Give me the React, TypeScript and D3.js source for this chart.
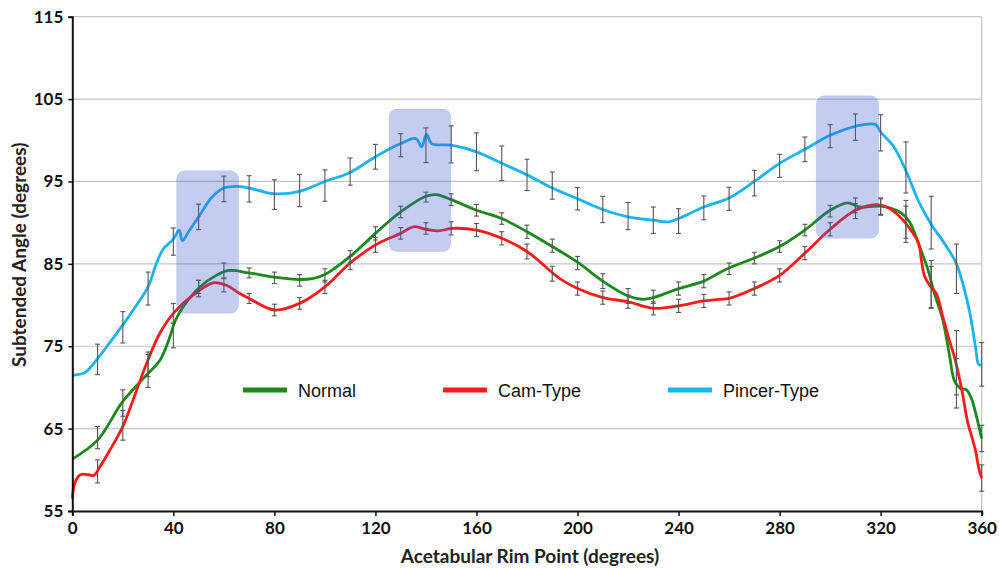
import React, { useEffect, useRef } from 'react';
import * as d3 from 'd3';

const WIDTH = 999;
const HEIGHT = 568;

// line traces (angle in degrees, subtended angle in degrees)
const pincerAngles = [0, 5, 10, 15, 20, 25, 30, 33, 36, 40, 42.3, 43.6, 46, 50, 55, 60, 65, 70, 80, 90, 100, 110, 120, 130, 136, 138.3, 140.2, 142.3, 150, 160, 170, 180, 190, 200, 210, 220, 230, 236, 240, 250, 260, 270, 280, 290, 300, 310, 318, 320, 325, 330, 335, 340, 345, 350, 355, 357.5, 358.8, 360];
const pincerValues = [71.5, 71.8, 73.5, 75.5, 77.6, 79.8, 82.2, 84.8, 86.8, 88.0, 89.1, 87.8, 88.9, 90.7, 93.0, 94.2, 94.4, 94.2, 93.5, 93.8, 95.0, 96.1, 98.0, 99.6, 100.2, 99.2, 100.7, 99.6, 99.4, 98.6, 97.2, 95.8, 94.2, 92.9, 91.6, 90.7, 90.3, 90.1, 90.5, 91.9, 93.0, 95.0, 97.2, 98.9, 100.6, 101.7, 101.9, 101.0, 99.3, 96.3, 92.6, 89.8, 87.6, 85.0, 79.5, 75.0, 72.8, 72.7];

const normalAngles = [0, 10, 20, 30, 34.7, 38.7, 40.6, 43.9, 50.5, 57, 62, 70, 80, 90, 95, 100, 110, 120, 130, 140, 144, 150, 160, 170, 180, 190, 200, 210, 220, 226, 230, 240, 250, 256, 260, 270, 280, 290, 300, 307, 311.6, 320, 328, 331.4, 335.4, 338.7, 341.3, 344.6, 347.3, 349.2, 351.5, 354, 356, 358, 360];
const normalValues = [61.3, 63.6, 68.3, 71.7, 73.3, 76.2, 78.0, 79.8, 82.2, 83.6, 84.2, 83.9, 83.4, 83.1, 83.2, 83.7, 85.9, 88.7, 91.3, 93.2, 93.4, 92.8, 91.5, 90.5, 88.9, 87.1, 85.2, 82.9, 81.1, 80.7, 80.9, 82.0, 82.9, 83.9, 84.5, 85.7, 87.1, 89.1, 91.5, 92.4, 91.9, 92.0, 91.2, 90.1, 87.1, 84.3, 81.4, 78.2, 73.8, 70.8, 69.9, 69.7, 68.6, 66.4, 63.8];

const camAngles = [0, 1, 3.2, 6.5, 8.5, 11, 14.9, 20.2, 25.5, 29.4, 34.7, 40.6, 47.8, 55.7, 61, 66.3, 70, 80, 90, 100, 110, 120, 130, 135, 140, 145, 150, 160, 170, 180, 193, 200, 210, 220, 230, 240, 250, 256, 260, 270, 280, 290, 300, 310, 318.4, 322.4, 327, 331, 335, 336.1, 337.4, 339.4, 342, 344.6, 347.3, 349.2, 352, 354.5, 356, 357.5, 359, 360];
const camValues = [56.5, 58.4, 59.4, 59.4, 59.3, 60.4, 62.4, 65.4, 69.7, 72.9, 76.6, 79.2, 81.2, 82.7, 82.4, 81.4, 80.8, 79.4, 80.2, 82.2, 85.1, 87.3, 88.7, 89.5, 89.2, 89.0, 89.3, 89.1, 88.1, 86.5, 83.2, 82.0, 80.9, 80.4, 79.6, 79.9, 80.5, 80.7, 80.8, 82.0, 83.6, 86.3, 89.2, 91.5, 92.2, 91.9, 90.9, 89.5, 87.5, 85.5, 83.5, 82.4, 81.4, 78.6, 75.6, 73.7, 69.9, 65.7, 64.1, 62.4, 60.0, 59.0];

// error bars every 10 degrees
const barAngles = [10, 20, 30, 40, 50, 60, 70, 80, 90, 100, 110, 120, 130, 140, 150, 160, 170, 180, 190, 200, 210, 220, 230, 240, 250, 260, 270, 280, 290, 300, 310, 320, 330, 340, 350, 360];
const pincerMean = [73.4, 77.3, 82.0, 87.7, 90.7, 94.1, 94.1, 93.4, 93.9, 94.5, 96.2, 98.0, 99.4, 99.4, 99.5, 98.6, 97.2, 95.8, 94.5, 92.9, 91.6, 90.8, 90.3, 90.2, 91.8, 92.9, 94.8, 96.9, 98.9, 100.5, 101.6, 100.9, 96.7, 90.0, 84.4, 72.8];
const pincerErr = [1.85, 1.9, 2.0, 1.65, 1.55, 1.55, 1.6, 1.8, 1.95, 1.9, 1.65, 1.5, 1.4, 2.1, 2.25, 2.3, 2.1, 1.9, 1.65, 1.35, 1.6, 1.65, 1.6, 1.5, 1.45, 1.4, 1.55, 1.4, 1.5, 1.4, 1.6, 2.2, 3.1, 3.2, 3.0, 2.65];
const normalMean = [63.9, 68.1, 72.0, 76.3, 82.0, 84.2, 83.9, 83.3, 83.0, 83.6, 85.9, 88.7, 91.3, 93.1, 92.8, 91.5, 90.5, 88.9, 87.2, 85.1, 82.9, 81.1, 81.0, 82.0, 82.9, 84.4, 85.7, 87.1, 89.1, 91.4, 92.1, 91.9, 90.4, 82.5, 70.5, 63.8];
const normalErr = [1.35, 1.6, 2.0, 1.5, 1.0, 0.9, 0.6, 0.7, 0.7, 0.8, 0.7, 0.8, 0.7, 0.6, 0.7, 0.7, 0.7, 0.8, 0.8, 0.8, 0.9, 0.9, 0.8, 0.8, 0.8, 0.7, 0.7, 0.7, 0.7, 0.7, 0.9, 1.0, 2.3, 2.9, 3.0, 1.6];
const camMean = [59.8, 65.4, 72.8, 79.0, 82.2, 82.4, 80.8, 79.4, 80.2, 82.2, 85.1, 87.3, 88.7, 89.3, 89.3, 89.1, 88.1, 86.5, 83.8, 82.0, 80.9, 80.4, 79.6, 79.9, 80.5, 80.8, 82.0, 83.6, 86.3, 89.2, 91.4, 92.0, 89.8, 82.2, 73.0, 59.0];
const camErr = [1.4, 1.8, 1.5, 1.2, 0.8, 0.8, 0.6, 0.7, 0.7, 0.8, 0.8, 0.9, 0.7, 0.7, 0.8, 0.8, 0.8, 0.9, 0.9, 0.8, 0.8, 0.8, 0.8, 0.8, 0.8, 0.8, 0.8, 0.8, 0.8, 0.8, 0.9, 1.0, 2.2, 2.5, 3.9, 1.6];

// highlighted regions
const boxStart = [41.3, 125.4, 294.5];
const boxEnd = [65.8, 149.8, 319.2];
const boxLow = [79.0, 86.5, 88.1];
const boxHigh = [96.3, 103.8, 105.4];

const xTicks = [0, 40, 80, 120, 160, 200, 240, 280, 320, 360];
const yTicks = [55, 65, 75, 85, 95, 105, 115];

const seriesNames = ['Normal', 'Cam-Type', 'Pincer-Type'];
const seriesColors = ['#1a8a1a', '#ff1a1a', '#1ab4f2'];

const App = () => {
  const ref = useRef(null);

  useEffect(() => {
    const svg = d3.select(ref.current);
    svg.selectAll('*').remove();

    const x = d3.scaleLinear().domain([0, 360]).range([72.3, 981.7]);
    const y = d3.scaleLinear().domain([55, 115]).range([511, 16.7]);
    const axisFont = 'Lato, "Open Sans", sans-serif';

    // grid
    svg.append('g')
      .selectAll('line')
      .data(yTicks.slice(1))
      .enter()
      .append('line')
      .attr('x1', x(0))
      .attr('x2', x(360))
      .attr('y1', (d) => y(d))
      .attr('y2', (d) => y(d))
      .attr('stroke', '#c4c4c4')
      .attr('stroke-width', 1.2);

    svg.append('line')
      .attr('x1', x(360)).attr('x2', x(360))
      .attr('y1', y(115)).attr('y2', y(55))
      .attr('stroke', '#c4c4c4')
      .attr('stroke-width', 1.2);

    // lines
    const traces = [
      { a: normalAngles, v: normalValues },
      { a: camAngles, v: camValues },
      { a: pincerAngles, v: pincerValues },
    ];
    const line = d3.line()
      .x((d) => x(d[0]))
      .y((d) => y(d[1]))
      .curve(d3.curveCatmullRom.alpha(0.5));

    traces.forEach((t, i) => {
      svg.append('path')
        .attr('d', line(t.a.map((a, j) => [a, t.v[j]])))
        .attr('fill', 'none')
        .attr('stroke', seriesColors[i])
        .attr('stroke-width', 2.8)
        .attr('stroke-linejoin', 'round');
    });

    // error bars
    const bars = [
      { m: normalMean, e: normalErr },
      { m: camMean, e: camErr },
      { m: pincerMean, e: pincerErr },
    ];
    const eb = svg.append('g').attr('stroke', '#555').attr('stroke-width', 1.1);
    bars.forEach((b) => {
      barAngles.forEach((a, j) => {
        const cx = x(a);
        const top = y(b.m[j] + b.e[j]);
        const bot = y(b.m[j] - b.e[j]);
        eb.append('line').attr('x1', cx).attr('x2', cx).attr('y1', top).attr('y2', bot);
        eb.append('line').attr('x1', cx - 2.5).attr('x2', cx + 2.5).attr('y1', top).attr('y2', top);
        eb.append('line').attr('x1', cx - 2.5).attr('x2', cx + 2.5).attr('y1', bot).attr('y2', bot);
      });
    });

    // highlight boxes
    svg.append('g')
      .selectAll('rect')
      .data(boxStart.map((s, i) => i))
      .enter()
      .append('rect')
      .attr('x', (i) => x(boxStart[i]))
      .attr('y', (i) => y(boxHigh[i]))
      .attr('width', (i) => x(boxEnd[i]) - x(boxStart[i]))
      .attr('height', (i) => y(boxLow[i]) - y(boxHigh[i]))
      .attr('rx', 8)
      .attr('fill', 'rgb(60,85,205)')
      .attr('fill-opacity', 0.3)
      .attr('stroke', 'rgb(60,85,205)')
      .attr('stroke-opacity', 0.12);

    // axes
    const yAxis = svg.append('g')
      .attr('transform', `translate(${x(0)},0)`)
      .call(d3.axisLeft(y).tickValues(yTicks).tickSize(4).tickPadding(5).tickFormat(d3.format('d')));
    yAxis.select('.domain').attr('stroke', '#111').attr('stroke-width', 2);
    yAxis.selectAll('.tick line').attr('stroke', '#111').attr('stroke-width', 1.5);
    yAxis.selectAll('text')
      .attr('font-family', axisFont)
      .attr('font-weight', 'bold')
      .attr('font-size', 17)
      .attr('fill', '#111');

    const xAxis = svg.append('g')
      .attr('transform', `translate(0,${y(55)})`)
      .call(d3.axisBottom(x).tickValues(xTicks).tickSize(5).tickPadding(6).tickFormat(d3.format('d')));
    xAxis.select('.domain').attr('stroke', '#111').attr('stroke-width', 2);
    xAxis.selectAll('.tick line').attr('stroke', '#111').attr('stroke-width', 1.5);
    xAxis.selectAll('text')
      .attr('font-family', axisFont)
      .attr('font-weight', 'bold')
      .attr('font-size', 17)
      .attr('fill', '#111');

    // axis titles
    svg.append('text')
      .attr('x', (x(0) + x(360)) / 2 + 3)
      .attr('y', 563)
      .attr('text-anchor', 'middle')
      .attr('font-family', axisFont)
      .attr('font-weight', 'bold')
      .attr('font-size', 19)
      .attr('fill', '#222')
      .text('Acetabular Rim Point (degrees)');

    svg.append('text')
      .attr('transform', `translate(26,${(y(55) + y(115)) / 2 - 9}) rotate(-90)`)
      .attr('text-anchor', 'middle')
      .attr('font-family', axisFont)
      .attr('font-weight', 'bold')
      .attr('font-size', 19)
      .attr('fill', '#222')
      .text('Subtended Angle (degrees)');

    // legend
    const legendX = [243, 443, 668];
    const legend = svg.append('g');
    seriesNames.forEach((name, i) => {
      legend.append('line')
        .attr('x1', legendX[i]).attr('x2', legendX[i] + 44)
        .attr('y1', 390).attr('y2', 390)
        .attr('stroke', seriesColors[i])
        .attr('stroke-width', 5);
      legend.append('text')
        .attr('x', legendX[i] + 55)
        .attr('y', 397)
        .attr('font-family', '"Liberation Sans", Arial, sans-serif')
        .attr('font-size', 18)
        .attr('fill', '#111')
        .text(name);
    });
  }, []);

  return (
    <div style={{ position: 'fixed', left: 0, top: 0 }}>
      <svg ref={ref} width={WIDTH} height={HEIGHT} style={{ display: 'block', background: '#fff' }} />
    </div>
  );
};

export default App;
